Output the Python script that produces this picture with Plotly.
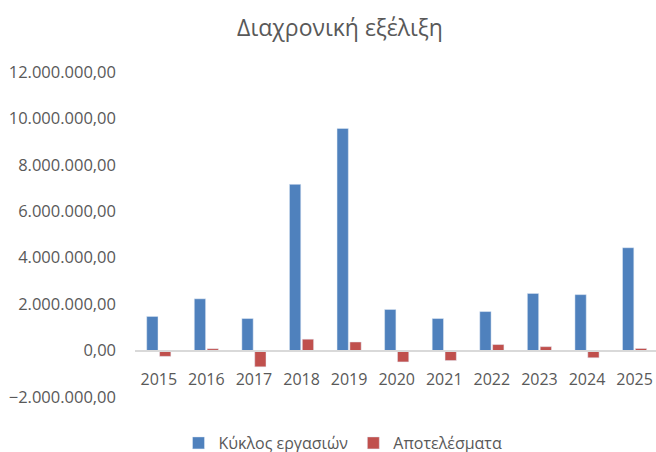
import plotly.graph_objects as go

years = ["2015", "2016", "2017", "2018", "2019", "2020", "2021", "2022", "2023", "2024", "2025"]
turnover = [1470000, 2230000, 1380000, 7160000, 9570000, 1770000, 1380000, 1680000, 2460000, 2410000, 4430000]
results = [-250000, 80000, -700000, 490000, 370000, -490000, -430000, 260000, 170000, -310000, 90000]

name_turnover = "Κύκλος εργασιών"
name_results = "Αποτελέσματα"
title_text = "Διαχρονική εξέλιξη"

FONT = "Open Sans"
GREY = "#595959"

W, H = 656, 452

fig = go.Figure()
fig.add_trace(go.Bar(x=years, y=turnover, name=name_turnover, marker_color="#4F81BD"))
fig.add_trace(go.Bar(x=years, y=results, name=name_results, marker_color="#C0504D"))

ymin, ymax = -2000000, 12000000
fig.update_layout(
    width=W, height=H,
    margin=dict(l=135, r=0, t=72, b=H - 397, autoexpand=False),
    paper_bgcolor="white", plot_bgcolor="white",
    separators=",.",
    barmode="group", bargap=0.46, bargroupgap=0.12,
    font=dict(family=FONT, color=GREY, size=16),
    title=dict(text=title_text, xref="container", x=340 / W, xanchor="center",
               yref="container", y=1 - 28 / H, yanchor="middle", automargin=False,
               font=dict(family=FONT, size=23, color=GREY)),
    legend=dict(orientation="h", xref="container", x=343 / W, xanchor="center",
                yref="container", y=1 - 443 / H, yanchor="middle",
                font=dict(family=FONT, size=16, color=GREY),
                itemwidth=30, traceorder="normal", tracegroupgap=0),
    showlegend=True,
)
fig.update_yaxes(range=[ymin, ymax], dtick=2000000, tickformat=",.2f", automargin=False,
                 showgrid=False, zeroline=False, showline=False,
                 ticks="", ticklen=0, ticklabelstandoff=18,
                 tickfont=dict(family=FONT, size=16.5, color=GREY))
fig.update_xaxes(type="category", range=[-0.5, 10.45], anchor="free", automargin=False,
                 position=(0 - ymin) / (ymax - ymin),
                 showline=True, linecolor="#d9d9d9", linewidth=2,
                 showgrid=False, ticks="", ticklabelstandoff=14,
                 tickfont=dict(family=FONT, size=16, color=GREY))

# remove the browser's default 8px body margin so the figure fills the window exactly
fig.write_html("out.html", config={"displayModeBar": False},
               post_script="document.body.style.margin='0';document.body.style.overflow='hidden';")
